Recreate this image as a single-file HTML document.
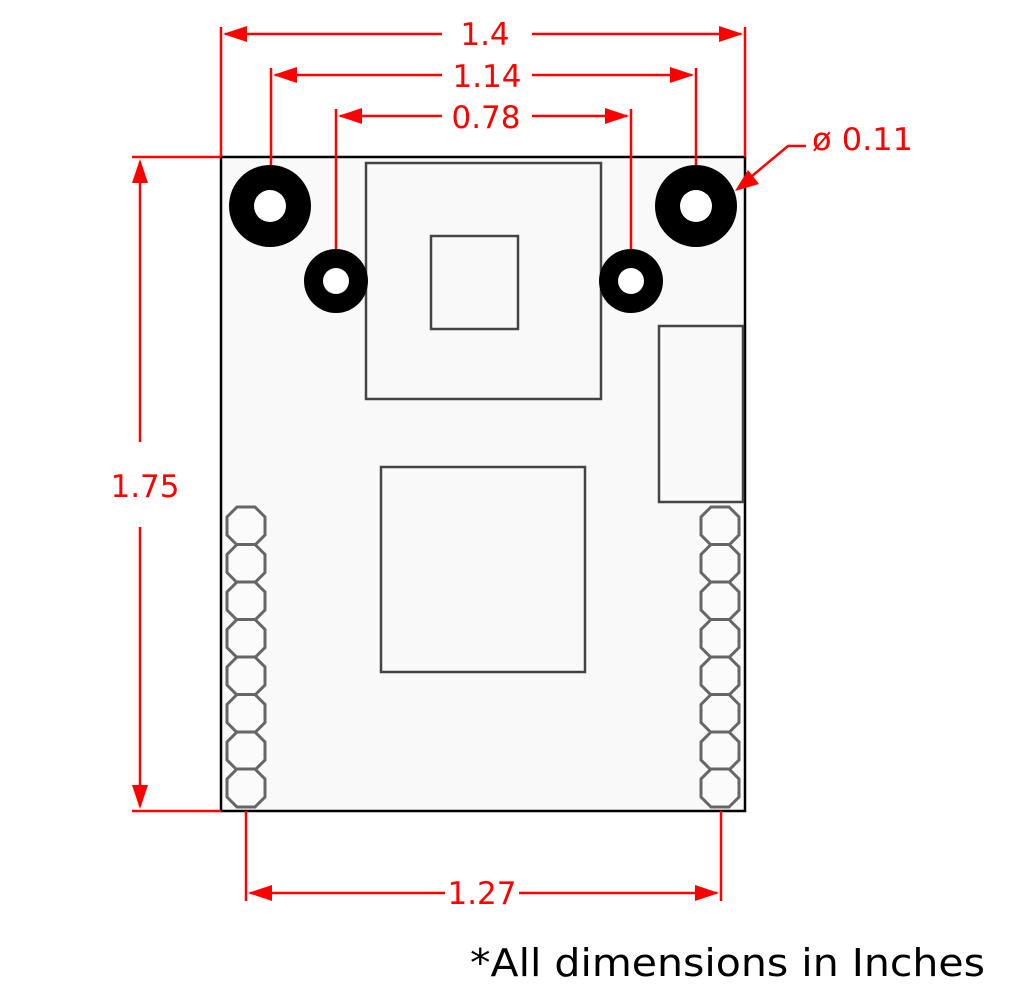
<!DOCTYPE html>
<html><head><meta charset="utf-8"><style>html,body{margin:0;padding:0;background:#fff}svg{display:block}</style></head>
<body>
<svg width="1024" height="1000" viewBox="0 0 1024 1000" xmlns="http://www.w3.org/2000/svg" font-family="DejaVu Sans, Liberation Sans, sans-serif">
<defs>
<polygon id="oct" points="-9,-19 9,-19 19,-9 19,9 9,19 -9,19 -19,9 -19,-9" fill="#fbfbfb" stroke="#666" stroke-width="3"/>
</defs>
<rect x="221" y="157" width="524" height="654" fill="#f9f9f9" stroke="#000" stroke-width="2.5"/>
<g fill="none" stroke="#444" stroke-width="2.5">
<rect x="366" y="163" width="235" height="236"/>
<rect x="431" y="236" width="87" height="93"/>
<rect x="381" y="467" width="204" height="205"/>
<rect x="659" y="326" width="84" height="176"/>
</g>
<g>
<use href="#oct" x="246" y="526"/><use href="#oct" x="246" y="563.5"/><use href="#oct" x="246" y="601"/><use href="#oct" x="246" y="638.5"/><use href="#oct" x="246" y="676"/><use href="#oct" x="246" y="713.5"/><use href="#oct" x="246" y="751"/><use href="#oct" x="246" y="788"/>
<use href="#oct" x="720" y="526"/><use href="#oct" x="720" y="563.5"/><use href="#oct" x="720" y="601"/><use href="#oct" x="720" y="638.5"/><use href="#oct" x="720" y="676"/><use href="#oct" x="720" y="713.5"/><use href="#oct" x="720" y="751"/><use href="#oct" x="720" y="788"/>
</g>
<g stroke="#f00" stroke-width="2.5" fill="none">
<line x1="221" y1="27" x2="221" y2="157"/><line x1="745" y1="27" x2="745" y2="157"/>
<line x1="225" y1="34" x2="442" y2="34"/><line x1="532" y1="34" x2="741" y2="34"/>
<line x1="271" y1="68" x2="271" y2="165"/><line x1="696" y1="68" x2="696" y2="165"/>
<line x1="275" y1="75" x2="442" y2="75"/><line x1="532" y1="75" x2="692" y2="75"/>
<line x1="336" y1="109" x2="336" y2="250"/><line x1="631" y1="109" x2="631" y2="250"/>
<line x1="340" y1="116" x2="442" y2="116"/><line x1="532" y1="116" x2="627" y2="116"/>
<line x1="132" y1="157" x2="221" y2="157"/><line x1="132" y1="811" x2="221" y2="811"/>
<line x1="140" y1="162" x2="140" y2="442"/><line x1="140" y1="527" x2="140" y2="806"/>
<line x1="246" y1="811" x2="246" y2="901"/><line x1="721" y1="811" x2="721" y2="901"/>
<line x1="250" y1="893" x2="445" y2="893"/><line x1="519" y1="893" x2="717" y2="893"/>
<polyline points="740,186 788,146 806,146"/>
</g>
<g fill="#f00">
<polygon points="223,34 247,26 247,42"/><polygon points="743,34 719,26 719,42"/>
<polygon points="273,75 297,67 297,83"/><polygon points="694,75 670,67 670,83"/>
<polygon points="338,116 362,108 362,124"/><polygon points="629,116 605,108 605,124"/>
<polygon points="140,159 132,183 148,183"/><polygon points="140,809 132,785 148,785"/>
<polygon points="248,893 272,885 272,901"/><polygon points="719,893 695,885 695,901"/>
<polygon points="735,191 748,170 759,184"/>
</g>
<g fill="#000">
<circle cx="270" cy="206" r="41"/><circle cx="696" cy="206" r="41"/>
<circle cx="336" cy="281" r="32"/><circle cx="631" cy="281" r="32"/>
</g>
<g fill="#fff">
<circle cx="270" cy="206" r="16"/><circle cx="696" cy="206" r="16"/>
<circle cx="336" cy="281" r="13"/><circle cx="631" cy="281" r="13"/>
</g>
<g fill="#f00" font-size="31" text-anchor="middle">
<text x="485" y="45">1.4</text>
<text x="487" y="87">1.14</text>
<text x="486" y="128">0.78</text>
<text x="145" y="497">1.75</text>
<text x="482" y="904">1.27</text>
<text x="812" y="150" text-anchor="start" textLength="101" lengthAdjust="spacingAndGlyphs">ø 0.11</text>
</g>
<text x="470" y="976" font-size="38" fill="#000" textLength="515" lengthAdjust="spacingAndGlyphs">*All dimensions in Inches</text>
</svg>
</body></html>
